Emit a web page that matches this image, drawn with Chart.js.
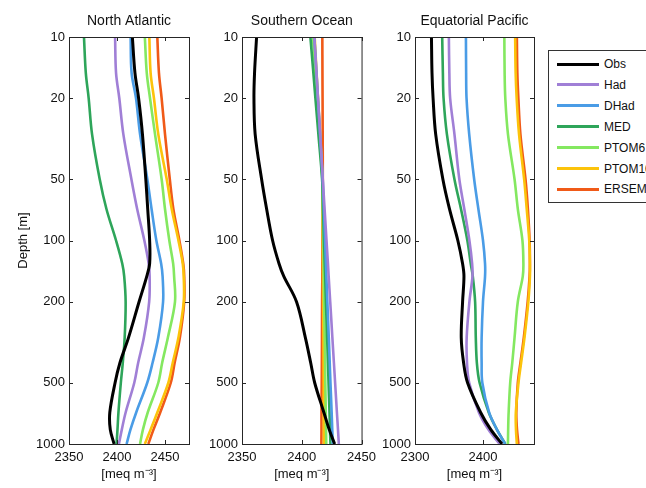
<!DOCTYPE html>
<html>
<head>
<meta charset="utf-8">
<script src="https://cdn.jsdelivr.net/npm/chart.js@4.4.1/dist/chart.umd.min.js"></script>
<style>
  body { margin: 0; width: 646px; height: 488px; overflow: hidden; background: #fff; font-family: "Liberation Sans", Arial, sans-serif; }
  canvas { position: absolute; top: 0; }
  #legend { position: absolute; left: 548px; top: 50px; width: 110px; height: 151px; border: 1px solid #333; background: #fff; }
  .item { position: absolute; left: 8px; height: 14px; display: flex; align-items: center; font-size: 12px; color: #111; white-space: nowrap; }
  .sw { display: inline-block; width: 42px; height: 3px; margin-right: 5px; }
</style>
</head>
<body>
<canvas id="na" width="210" height="488" style="left:0px"></canvas>
<canvas id="so" width="182" height="488" style="left:200px"></canvas>
<canvas id="ep" width="174" height="488" style="left:373px"></canvas>
<div id="legend"></div>
<script>
// Depth levels and axis ticks
const depths = [10, 15, 20, 30, 50, 70, 100, 130, 150, 200, 300, 400, 500, 700, 850, 1000];
const depthTicks = [10, 20, 50, 100, 200, 500, 1000];
const naTicks = [2350, 2400, 2450];
const soTicks = [2350, 2400, 2450];
const epTicks = [2300, 2400];

const seriesNames = ["Obs", "Had", "DHad", "MED", "PTOM6", "PTOM10", "ERSEM"];
const seriesColors = ["#000000", "#a07fd6", "#4a9ce6", "#2ea55a", "#84e860", "#fcc30b", "#f05a18"];

// North Atlantic
const naObs    = [2416, 2418.7, 2422.5, 2426.5, 2430, 2432, 2434, 2434, 2431, 2423, 2412, 2403, 2398, 2392.5, 2393, 2397];
const naHad    = [2398, 2399, 2402.4, 2406.6, 2415, 2421, 2428.5, 2433, 2434, 2433.5, 2428, 2422, 2418, 2409, 2405, 2402];
const naDHad   = [2414.2, 2415.2, 2419.8, 2424, 2431.6, 2436, 2441, 2446, 2447.5, 2448, 2443, 2437, 2431.5, 2420, 2414, 2410];
const naMED    = [2365.6, 2367.5, 2370.5, 2374, 2382, 2389, 2399, 2405.5, 2407.5, 2409, 2408, 2406, 2404, 2401.5, 2400.5, 2399.5];
const naPTOM6  = [2429, 2431, 2434.4, 2439.6, 2446.5, 2450, 2454.5, 2458.5, 2459.5, 2460.4, 2453, 2447, 2443, 2432, 2427, 2424];
const naPTOM10 = [2433.7, 2435, 2438.5, 2443, 2451.8, 2457, 2464, 2468.5, 2469.5, 2469.5, 2464, 2458, 2453.5, 2442, 2435, 2429];
const naERSEM  = [2442, 2443.7, 2446.5, 2450, 2455, 2458.7, 2465, 2469, 2470, 2470, 2465.5, 2460, 2456, 2445, 2438, 2432.6];

// Southern Ocean
const soObs    = [2362.2, 2360.5, 2360, 2361, 2366.4, 2370.6, 2375.6, 2381, 2385, 2395.6, 2403, 2407.5, 2410.8, 2418.5, 2423, 2427.5];
const soHad    = [2410.5, 2412.3, 2413.6, 2415.4, 2417.6, 2419.1, 2420.7, 2421.9, 2422.5, 2423.8, 2425.6, 2426.9, 2427.9, 2429.4, 2430.3, 2431];
const soDHad   = [2410.5, 2412.3, 2413.5, 2415.3, 2417.5, 2418.5, 2419.5, 2420.2, 2420.6, 2421.4, 2422.6, 2423.4, 2424, 2425, 2425.5, 2426];
const soMED    = [2407.2, 2409.7, 2411.4, 2413.9, 2417, 2417.8, 2418.6, 2419.2, 2419.6, 2420.2, 2421.2, 2421.9, 2422.4, 2423.2, 2423.6, 2424];
const soPTOM6  = [2409.3, 2411.3, 2412.7, 2414.7, 2417.2, 2417.6, 2418, 2418.3, 2418.4, 2418.7, 2419.2, 2419.5, 2419.7, 2420.1, 2420.3, 2420.5];
const soPTOM10 = [2410.8, 2412.4, 2413.6, 2415.2, 2417.3, 2417.4, 2417.6, 2417.7, 2417.8, 2417.9, 2418.1, 2418.2, 2418.3, 2418.4, 2418.5, 2418.6];
const soERSEM  = [2417.2, 2417.3, 2417.4, 2417.5, 2417.6, 2417.5, 2417.3, 2417.2, 2417.2, 2417, 2416.9, 2416.8, 2416.7, 2416.5, 2416.5, 2416.4];

// Equatorial Pacific
const epObs    = [2324.2, 2325, 2326.6, 2330.4, 2341, 2350.7, 2363, 2370, 2372, 2370, 2368, 2371.5, 2377.3, 2396.5, 2411.5, 2428];
const epHad    = [2349.8, 2350.5, 2351.7, 2358, 2365.2, 2372.5, 2380, 2384, 2384.5, 2380, 2376, 2376.5, 2379.7, 2394, 2408, 2424.5];
const epDHad   = [2374.9, 2375.2, 2375.8, 2379.7, 2387, 2393.2, 2400, 2403, 2403, 2400, 2398, 2398, 2399, 2409, 2420.5, 2432.5];
const epMED    = [2340, 2341, 2342, 2346.9, 2358, 2367.6, 2377, 2382, 2385, 2388.4, 2389.4, 2391, 2395, 2408.5, 2420.5, 2433];
const epPTOM6  = [2431.4, 2431.8, 2432.8, 2436.7, 2446.4, 2451.2, 2458, 2459.4, 2458.5, 2451.2, 2446.4, 2443, 2440, 2437.7, 2437, 2436.7];
const epPTOM10 = [2447.3, 2448, 2449.5, 2453, 2460.5, 2464.3, 2468, 2469, 2469, 2466.7, 2461, 2456, 2452.2, 2448.3, 2448.5, 2449.8];
const epERSEM  = [2449.8, 2450.5, 2452, 2455, 2462.5, 2466, 2468.5, 2469, 2468.5, 2465.7, 2460, 2455, 2451.2, 2449, 2450, 2452.2];

const axisColor = "#262626";
const textColor = "#111";
const fontFamily = '"Liberation Sans", Arial, sans-serif';

// box round the plot with inward ticks on all four sides
const framePlugin = {
    id: "frame",
    afterDatasetsDraw(chart) {
        const { ctx, chartArea: a, scales } = chart;
        ctx.save();
        ctx.strokeStyle = axisColor;
        ctx.lineWidth = 1;
        ctx.strokeRect(a.left + 0.5, a.top + 0.5, a.right - a.left, a.bottom - a.top);
        ctx.beginPath();
        scales.x.ticks.forEach((t) => {
            const x = Math.round(scales.x.getPixelForValue(t.value)) + 0.5;
            ctx.moveTo(x, a.bottom); ctx.lineTo(x, a.bottom - 4);
            ctx.moveTo(x, a.top); ctx.lineTo(x, a.top + 4);
        });
        scales.y.ticks.forEach((t) => {
            const y = Math.round(scales.y.getPixelForValue(t.value)) + 0.5;
            ctx.moveTo(a.left, y); ctx.lineTo(a.left + 4, y);
            ctx.moveTo(a.right, y); ctx.lineTo(a.right - 4, y);
        });
        ctx.stroke();
        ctx.restore();
    }
};

function makeDatasets(values) {
    return values.map((vals, i) => ({
        label: seriesNames[i],
        data: depths.map((d, k) => ({ x: vals[k], y: d })),
        borderColor: seriesColors[i],
        borderWidth: i === 0 ? 3 : 2.6,
        pointRadius: 0,
        fill: false,
        tension: 0.35
    }));
}

function makeChart(id, title, values, xMin, xMax, xTicks, yWidth, yTitle, padRight) {
    return new Chart(document.getElementById(id), {
        type: "line",
        data: { datasets: makeDatasets(values) },
        options: {
            indexAxis: "y",
            responsive: false,
            animation: false,
            events: [],
            layout: { padding: { left: 0, right: padRight, top: 0, bottom: 0 } },
            plugins: {
                legend: { display: false },
                tooltip: { enabled: false },
                title: {
                    display: true,
                    text: title,
                    fullSize: false,
                    color: textColor,
                    font: { family: fontFamily, size: 14, weight: "normal" },
                    padding: { top: 12.5, bottom: 7.7 }
                }
            },
            scales: {
                x: {
                    type: "linear",
                    position: "bottom",
                    min: xMin,
                    max: xMax,
                    afterBuildTicks: (s) => { s.ticks = xTicks.map((v) => ({ value: v })); },
                    afterFit: (s) => { s.height = 44; },
                    grid: { display: false, drawTicks: false },
                    border: { display: false },
                    ticks: {
                        color: textColor,
                        font: { family: fontFamily, size: 13 },
                        padding: 6,
                        maxRotation: 0,
                        autoSkip: false,
                        callback: (v) => String(v)
                    },
                    title: {
                        display: true,
                        text: "[meq m\u207B\u00B3]",
                        color: textColor,
                        font: { family: fontFamily, size: 13 },
                        padding: { top: 0, bottom: 6 }
                    }
                },
                y: {
                    type: "logarithmic",
                    position: "left",
                    reverse: true,
                    min: 10,
                    max: 1000,
                    afterBuildTicks: (s) => { s.ticks = depthTicks.map((v) => ({ value: v })); },
                    afterFit: (s) => { s.width = yWidth; },
                    grid: { display: false, drawTicks: false },
                    border: { display: false },
                    ticks: {
                        color: textColor,
                        font: { family: fontFamily, size: 13 },
                        padding: 4,
                        autoSkip: false,
                        callback: (v) => String(v)
                    },
                    title: {
                        display: yTitle,
                        text: "Depth [m]",
                        color: textColor,
                        font: { family: fontFamily, size: 13 },
                        padding: { top: 16, bottom: 0 }
                    }
                }
            }
        },
        plugins: [framePlugin]
    });
}

makeChart("na", "North Atlantic",
    [naObs, naHad, naDHad, naMED, naPTOM6, naPTOM10, naERSEM], 2350, 2475, naTicks, 69, true, 21);
makeChart("so", "Southern Ocean",
    [soObs, soHad, soDHad, soMED, soPTOM6, soPTOM10, soERSEM], 2350, 2450, soTicks, 42, false, 20);
makeChart("ep", "Equatorial Pacific",
    [epObs, epHad, epDHad, epMED, epPTOM6, epPTOM10, epERSEM], 2300, 2475, epTicks, 42, false, 13);

// Legend box
const legend = document.getElementById("legend");
seriesNames.forEach((name, i) => {
    const item = document.createElement("div");
    item.className = "item";
    item.style.top = (6 + i * 20.9) + "px";
    item.innerHTML = `<span class="sw" style="background:${seriesColors[i]}"></span>${name}`;
    legend.appendChild(item);
});
</script>
</body>
</html>
